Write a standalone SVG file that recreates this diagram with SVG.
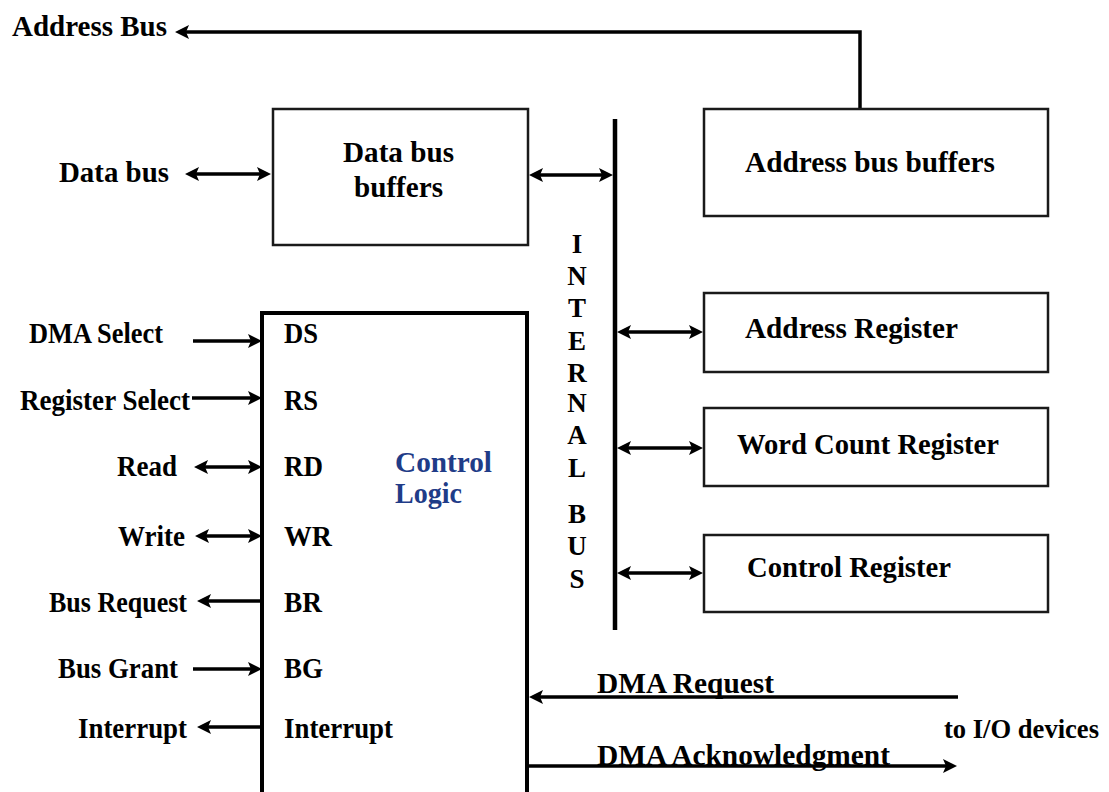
<svg xmlns="http://www.w3.org/2000/svg" width="1109" height="792" viewBox="0 0 1109 792">
  <style>
    .lbl { font-family: "Liberation Serif", "Times New Roman", serif; font-weight: bold; font-size: 30px; fill: #000; }
    .blue { fill: #1f3c88; font-size: 30px; }
    .bus { font-size: 27px; text-anchor: middle; }
    .io { font-size: 27px; }
    .box { fill: #fff; stroke: #1a1a1a; stroke-width: 2.5; }
    .ctrl { fill: #fff; stroke: #000; stroke-width: 4; }
    .wire { fill: none; stroke: #000; stroke-width: 3.5; }
    .bar { fill: none; stroke: #000; stroke-width: 4.5; }
  </style>
  <defs>
    <marker id="ah" viewBox="0 0 14 14" refX="4" refY="7" markerWidth="14" markerHeight="14" markerUnits="userSpaceOnUse" orient="auto-start-reverse">
      <path d="M0,0 L14,7 L0,14 L3,7 Z" fill="#000"/>
    </marker>
  </defs>

  <rect width="1109" height="792" fill="#fff"/>

  <!-- connectors -->
  <g id="connectors">
    <path class="wire" d="M860,108 V32 H185" marker-end="url(#ah)"/>
    <path class="wire" d="M195,174 H261" marker-start="url(#ah)" marker-end="url(#ah)"/>
    <path class="wire" d="M539,175 H603" marker-start="url(#ah)" marker-end="url(#ah)"/>
    <path class="bar" d="M615,119 V630"/>
    <path class="wire" d="M627,332 H693" marker-start="url(#ah)" marker-end="url(#ah)"/>
    <path class="wire" d="M627,448 H693" marker-start="url(#ah)" marker-end="url(#ah)"/>
    <path class="wire" d="M627,573 H693" marker-start="url(#ah)" marker-end="url(#ah)"/>
    <path class="wire" d="M193,341 H252" marker-end="url(#ah)"/>
    <path class="wire" d="M192,398 H252" marker-end="url(#ah)"/>
    <path class="wire" d="M204,467 H252" marker-start="url(#ah)" marker-end="url(#ah)"/>
    <path class="wire" d="M205,536 H252" marker-start="url(#ah)" marker-end="url(#ah)"/>
    <path class="wire" d="M262,601 H207" marker-end="url(#ah)"/>
    <path class="wire" d="M193,669 H252" marker-end="url(#ah)"/>
    <path class="wire" d="M262,727 H207" marker-end="url(#ah)"/>
    <path class="wire" d="M958,697 H539" marker-end="url(#ah)"/>
    <path class="wire" d="M527,766 H947" marker-end="url(#ah)"/>
  </g>

  <!-- external signal labels -->
  <g id="external-labels">
    <text class="lbl" x="12" y="36" textLength="155" lengthAdjust="spacingAndGlyphs">Address Bus</text>
    <text class="lbl" x="59" y="182" textLength="110" lengthAdjust="spacingAndGlyphs">Data bus</text>
    <text class="lbl" x="29" y="343" textLength="134" lengthAdjust="spacingAndGlyphs">DMA Select</text>
    <text class="lbl" x="20" y="410" textLength="170" lengthAdjust="spacingAndGlyphs">Register Select</text>
    <text class="lbl" x="117" y="476" textLength="60" lengthAdjust="spacingAndGlyphs">Read</text>
    <text class="lbl" x="118" y="546" textLength="67" lengthAdjust="spacingAndGlyphs">Write</text>
    <text class="lbl" x="49" y="612" textLength="138" lengthAdjust="spacingAndGlyphs">Bus Request</text>
    <text class="lbl" x="58" y="678" textLength="120" lengthAdjust="spacingAndGlyphs">Bus Grant</text>
    <text class="lbl" x="78" y="738" textLength="109" lengthAdjust="spacingAndGlyphs">Interrupt</text>
    <text class="lbl" x="597" y="693" textLength="177" lengthAdjust="spacingAndGlyphs">DMA Request</text>
    <text class="lbl" x="597" y="765" textLength="293" lengthAdjust="spacingAndGlyphs">DMA Acknowledgment</text>
    <text class="lbl io" x="944" y="738" textLength="155" lengthAdjust="spacingAndGlyphs">to I/O devices</text>
  </g>

  <!-- internal bus caption -->
  <g id="internal-bus">
    <text class="lbl bus" x="577" y="253">I</text>
    <text class="lbl bus" x="577" y="285">N</text>
    <text class="lbl bus" x="577" y="317">T</text>
    <text class="lbl bus" x="577" y="350">E</text>
    <text class="lbl bus" x="577" y="382">R</text>
    <text class="lbl bus" x="577" y="412">N</text>
    <text class="lbl bus" x="577" y="444">A</text>
    <text class="lbl bus" x="577" y="477">L</text>
    <text class="lbl bus" x="577" y="523">B</text>
    <text class="lbl bus" x="577" y="555">U</text>
    <text class="lbl bus" x="577" y="588">S</text>
  </g>

  <g id="data-bus-buffers">
    <rect class="box" x="273" y="109" width="255" height="136"/>
    <text class="lbl" x="343" y="162" textLength="111" lengthAdjust="spacingAndGlyphs">Data bus</text>
    <text class="lbl" x="354" y="197" textLength="89" lengthAdjust="spacingAndGlyphs">buffers</text>
  </g>

  <g id="address-bus-buffers">
    <rect class="box" x="704" y="109" width="344" height="107"/>
    <text class="lbl" x="745" y="172" textLength="250" lengthAdjust="spacingAndGlyphs">Address bus buffers</text>
  </g>

  <g id="address-register">
    <rect class="box" x="704" y="293" width="344" height="79"/>
    <text class="lbl" x="745" y="338" textLength="213" lengthAdjust="spacingAndGlyphs">Address Register</text>
  </g>

  <g id="word-count-register">
    <rect class="box" x="704" y="408" width="344" height="78"/>
    <text class="lbl" x="737" y="454" textLength="262" lengthAdjust="spacingAndGlyphs">Word Count Register</text>
  </g>

  <g id="control-register">
    <rect class="box" x="704" y="535" width="344" height="77"/>
    <text class="lbl" x="747" y="577" textLength="204" lengthAdjust="spacingAndGlyphs">Control Register</text>
  </g>

  <g id="control-logic">
    <rect class="ctrl" x="262" y="313" width="265" height="520"/>
    <text class="lbl" x="284" y="343" textLength="34" lengthAdjust="spacingAndGlyphs">DS</text>
    <text class="lbl" x="284" y="410" textLength="34" lengthAdjust="spacingAndGlyphs">RS</text>
    <text class="lbl" x="284" y="476" textLength="39" lengthAdjust="spacingAndGlyphs">RD</text>
    <text class="lbl" x="284" y="546" textLength="48" lengthAdjust="spacingAndGlyphs">WR</text>
    <text class="lbl" x="284" y="612" textLength="38" lengthAdjust="spacingAndGlyphs">BR</text>
    <text class="lbl" x="284" y="678" textLength="39" lengthAdjust="spacingAndGlyphs">BG</text>
    <text class="lbl" x="284" y="738" textLength="109" lengthAdjust="spacingAndGlyphs">Interrupt</text>
    <text class="lbl blue" x="395" y="472" textLength="97" lengthAdjust="spacingAndGlyphs">Control</text>
    <text class="lbl blue" x="395" y="503" textLength="67" lengthAdjust="spacingAndGlyphs">Logic</text>
  </g>
</svg>
